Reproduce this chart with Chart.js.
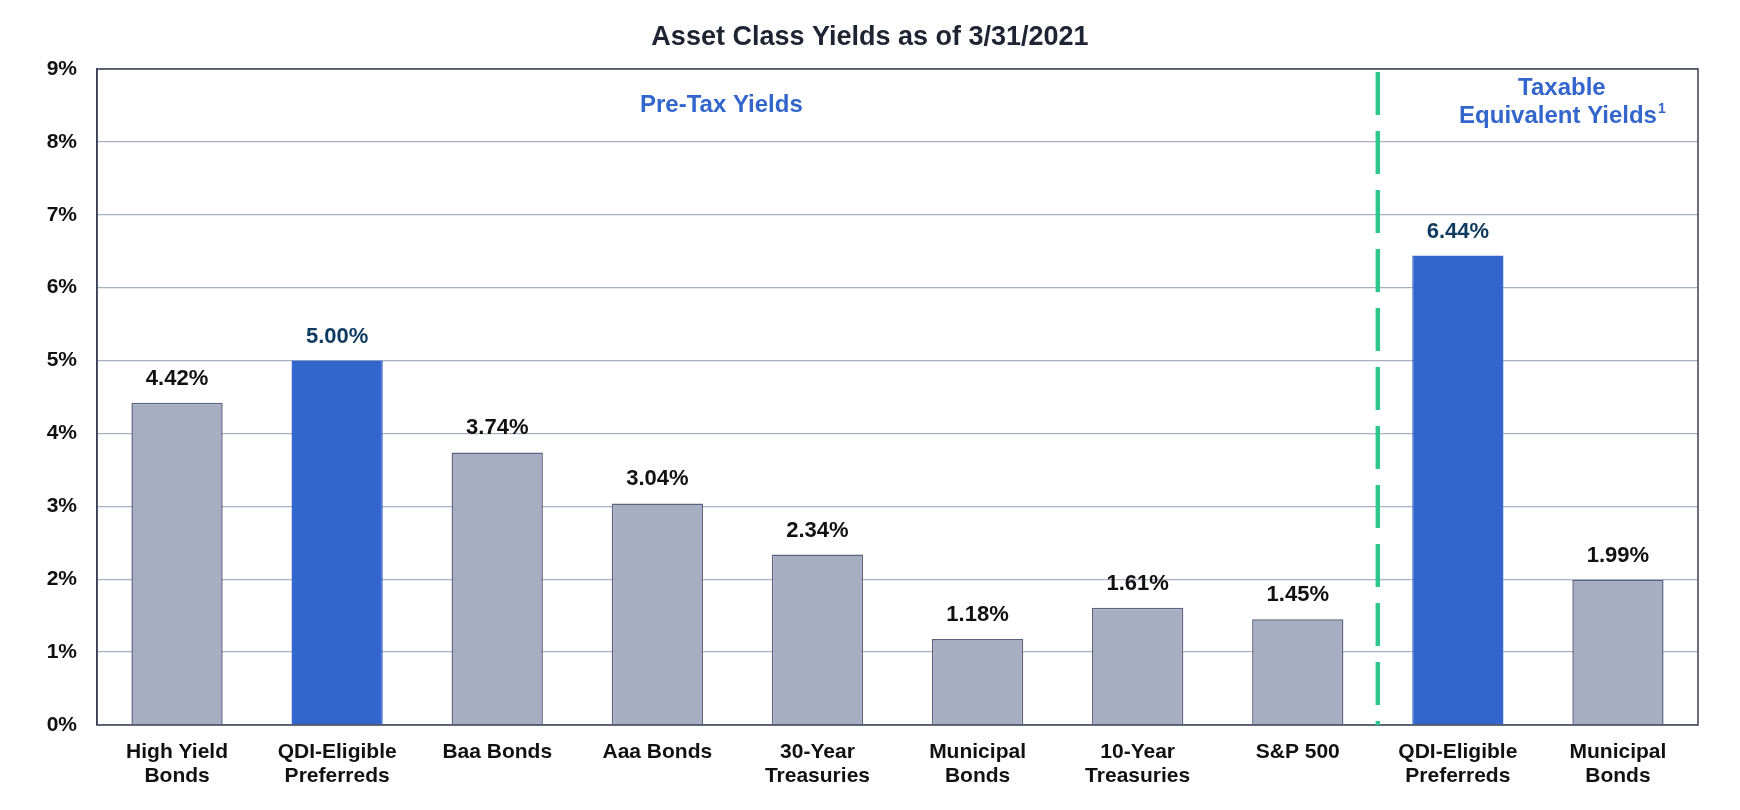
<!DOCTYPE html>
<html>
<head>
<meta charset="utf-8">
<script src="https://cdn.jsdelivr.net/npm/chart.js@4"></script>
<style>
  html, body { margin: 0; padding: 0; background: #fff; }
  #wrap { width: 1740px; height: 810px; }
</style>
</head>
<body>
<div id="wrap"><canvas id="yieldsChart"></canvas></div>
<script>
// dados do gráfico
const chartTitle = 'Asset Class Yields as of 3/31/2021';
const categories = [
    ['High Yield', 'Bonds'], ['QDI-Eligible', 'Preferreds'], ['Baa Bonds'], ['Aaa Bonds'],
    ['30-Year', 'Treasuries'], ['Municipal', 'Bonds'], ['10-Year', 'Treasuries'], ['S&P 500'],
    ['QDI-Eligible', 'Preferreds'], ['Municipal', 'Bonds']
];
const yields = [4.42, 5.00, 3.74, 3.04, 2.34, 1.18, 1.61, 1.45, 6.44, 1.99];
const highlighted = [false, true, false, false, false, false, false, false, true, false];
const yTicks = [0, 1, 2, 3, 4, 5, 6, 7, 8, 9];

const FONT = '"Liberation Sans", Arial, sans-serif';
const GRAY = '#a8aec1';
const BLUE = '#3366cc';

// título centralizado na página, rótulos de valor, linha tracejada e textos das seções
const overlayPlugin = {
    id: 'overlay',
    afterDatasetsDraw(chart) {
        const ctx = chart.ctx;
        const area = chart.chartArea;
        const x = chart.scales.x;
        const y = chart.scales.y;
        const meta = chart.getDatasetMeta(0);

        ctx.save();
        ctx.textAlign = 'center';
        ctx.textBaseline = 'middle';

        // título
        ctx.fillStyle = '#1f2433';
        ctx.font = 'bold 27px ' + FONT;
        ctx.fillText(chartTitle, chart.width / 2, 38);

        // borda do gráfico
        ctx.strokeStyle = '#3b4156';
        ctx.lineWidth = 1.5;
        ctx.strokeRect(area.left, area.top, area.right - area.left, area.bottom - area.top);

        // valores
        ctx.font = 'bold 22px ' + FONT;
        meta.data.forEach((bar, i) => {
            ctx.fillStyle = highlighted[i] ? '#0f3a5f' : '#111111';
            ctx.fillText(yields[i].toFixed(2) + '%', bar.x, bar.y - 24);
        });

        // linha divisória
        const sepX = (x.getPixelForValue(7) + x.getPixelForValue(8)) / 2;
        ctx.strokeStyle = '#2dc78e';
        ctx.lineWidth = 4.4;
        ctx.setLineDash([43, 16]);
        ctx.lineDashOffset = -3;
        ctx.beginPath();
        ctx.moveTo(sepX, area.top);
        ctx.lineTo(sepX, area.bottom);
        ctx.stroke();
        ctx.setLineDash([]);

        // títulos das seções
        ctx.fillStyle = BLUE;
        ctx.font = 'bold 24px ' + FONT;
        ctx.fillText('Pre-Tax Yields', x.getPixelForValue(3.4), y.getPixelForValue(8.5));

        const tx = x.getPixelForValue(8.65);
        ctx.fillText('Taxable', tx, y.getPixelForValue(8.74));
        const line2 = 'Equivalent Yields';
        const w2 = ctx.measureText(line2).width;
        ctx.font = 'bold 14px ' + FONT;
        const wSup = ctx.measureText('1').width;
        const startX = tx - (w2 + wSup) / 2;
        const y2 = y.getPixelForValue(8.35);
        ctx.textAlign = 'left';
        ctx.font = 'bold 24px ' + FONT;
        ctx.fillText(line2, startX, y2);
        ctx.font = 'bold 14px ' + FONT;
        ctx.fillText('1', startX + w2 + 1, y2 - 7);
        ctx.restore();
    }
};

const ctx = document.getElementById('yieldsChart');
new Chart(ctx, {
    type: 'bar',
    data: {
        labels: categories,
        datasets: [{
            data: yields,
            backgroundColor: highlighted.map(h => h ? BLUE : GRAY),
            borderColor: highlighted.map(h => h ? BLUE : '#5a6480'),
            borderWidth: 1.5,
            categoryPercentage: 1,
            barPercentage: 0.57
        }]
    },
    options: {
        responsive: true,
        maintainAspectRatio: false,
        animation: false,
        layout: { padding: { left: 10, right: 42, top: 69, bottom: 0 } },
        plugins: {
            legend: { display: false },
            tooltip: { enabled: false },
            title: { display: false }
        },
        scales: {
            x: {
                grid: { display: false },
                border: { display: false },
                ticks: {
                    color: '#111111',
                    font: { family: FONT, size: 21, weight: 'bold', lineHeight: 1.15 },
                    maxRotation: 0,
                    autoSkip: false,
                    padding: 7
                },
                afterFit(scale) { scale.height = 85; }
            },
            y: {
                min: 0,
                max: 9,
                afterBuildTicks(scale) { scale.ticks = yTicks.map(v => ({ value: v })); },
                grid: { color: '#a9b0c3', lineWidth: 1.3, drawTicks: false },
                border: { display: true, color: '#3b4156', width: 1.5 },
                ticks: {
                    color: '#111111',
                    font: { family: FONT, size: 21, weight: 'bold' },
                    padding: 20,
                    callback: v => v + '%'
                },
                afterFit(scale) { scale.width = 87; }
            }
        }
    },
    plugins: [overlayPlugin]
});
</script>
</body>
</html>
